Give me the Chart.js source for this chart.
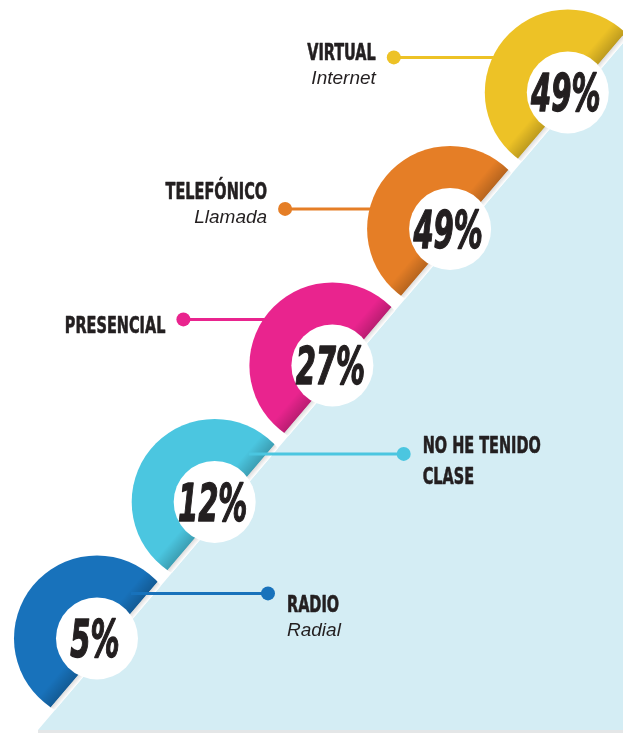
<!DOCTYPE html>
<html lang="es">
<head>
<meta charset="utf-8">
<title>Modalidad de clase</title>
<script src="https://cdn.jsdelivr.net/npm/chart.js@4.4.1/dist/chart.umd.min.js"></script>
<style>
  html, body { margin: 0; padding: 0; background: #ffffff; }
  #wrap { position: relative; width: 623px; height: 733px; }
</style>
</head>
<body>
<div id="wrap"><canvas id="modalidadChart"></canvas></div>
<script>
// datos (de abajo hacia arriba en la escalera)
const categorias = ['RADIO', 'NO HE TENIDO\nCLASE', 'PRESENCIAL', 'TELEFÓNICO', 'VIRTUAL'];
const subtitulos = ['Radial', '', '', 'Llamada', 'Internet'];
const porcentajes = [5, 12, 27, 49, 49];

// estilos
const coloresAnillo = ['#1872BB', '#4BC6E0', '#E9248E', '#E57E26', '#EDC226'];
const fondoTriangulo = '#D4EDF4';
const colorTexto = '#231F20';

// posicion de las etiquetas respecto al centro de cada anillo
const ladoEtiqueta = ['right', 'right', 'left', 'left', 'left'];
const puntoDx = [171, 189, -149, -165, -174];
const puntoDy = [-45, -48, -46, -20, -35];
const tituloDy = [19, -1, 14, -10, 3];

const R_ANILLO = 83;
const R_BLANCO = 41;
const HUECO = 5;

document.addEventListener('DOMContentLoaded', function() {
    const canvas = document.getElementById('modalidadChart');
    if (typeof Chart === 'undefined') {
        console.error('Chart.js no encontrado');
        return;
    }

    const puntos = categorias.map((c, i) => ({ x: i, y: i }));

    // diagonal del triangulo celeste
    function diagonal(chart) {
        const a = chart.chartArea;
        const p1 = { x: a.left + 38, y: a.bottom - 3 };
        const p2 = { x: a.right, y: a.top + 43 };
        const len = Math.hypot(p2.x - p1.x, p2.y - p1.y);
        const d = { x: (p2.x - p1.x) / len, y: (p2.y - p1.y) / len };
        const n = { x: d.y, y: -d.x }; // hacia arriba-izquierda
        if (n.x > 0) { n.x = -n.x; n.y = -n.y; }
        return { p1, p2, d, n };
    }

    function franja(ctx, g, s0, s1) {
        ctx.beginPath();
        ctx.moveTo(g.p1.x - g.d.x * 400 + g.n.x * s0, g.p1.y - g.d.y * 400 + g.n.y * s0);
        ctx.lineTo(g.p2.x + g.d.x * 400 + g.n.x * s0, g.p2.y + g.d.y * 400 + g.n.y * s0);
        ctx.lineTo(g.p2.x + g.d.x * 400 + g.n.x * s1, g.p2.y + g.d.y * 400 + g.n.y * s1);
        ctx.lineTo(g.p1.x - g.d.x * 400 + g.n.x * s1, g.p1.y - g.d.y * 400 + g.n.y * s1);
        ctx.closePath();
    }

    function textoAngosto(ctx, txt, x, y, font, align, sx, grosor) {
        ctx.save();
        ctx.translate(x, y);
        ctx.scale(sx, 1);
        ctx.font = font;
        ctx.textAlign = align;
        ctx.textBaseline = 'alphabetic';
        ctx.fillText(txt, 0, 0);
        if (grosor) {
            ctx.strokeStyle = ctx.fillStyle;
            ctx.lineWidth = grosor;
            ctx.lineJoin = 'round';
            ctx.strokeText(txt, 0, 0);
        }
        ctx.restore();
    }

    const escalera = {
        id: 'escalera',
        beforeDatasetsDraw(chart) {
            const ctx = chart.ctx;
            const a = chart.chartArea;
            const g = diagonal(chart);
            ctx.save();
            ctx.fillStyle = '#E4E6E7';
            ctx.fillRect(g.p1.x, a.bottom - 3, a.right - g.p1.x, 3);
            ctx.beginPath();
            ctx.moveTo(g.p1.x, g.p1.y);
            ctx.lineTo(g.p2.x, g.p2.y);
            ctx.lineTo(a.right, g.p1.y);
            ctx.closePath();
            ctx.fillStyle = fondoTriangulo;
            ctx.fill();
            ctx.restore();
        },
        beforeDatasetDraw(chart, args) {
            if (args.index !== 0) return;
            const ctx = chart.ctx;
            const g = diagonal(chart);
            ctx.save();
            franja(ctx, g, HUECO, 3000);
            ctx.clip();
        },
        afterDatasetDraw(chart, args) {
            if (args.index !== 0) return;
            const ctx = chart.ctx;
            ctx.restore();
            const g = diagonal(chart);
            const meta = chart.getDatasetMeta(0);
            meta.data.forEach(function(pt) {
                ctx.save();
                ctx.beginPath();
                ctx.arc(pt.x, pt.y, R_ANILLO, 0, Math.PI * 2);
                ctx.clip();
                // franja clara entre anillo y triangulo
                const band = ctx.createLinearGradient(
                    g.p1.x, g.p1.y,
                    g.p1.x + g.n.x * HUECO, g.p1.y + g.n.y * HUECO);
                band.addColorStop(0, '#ffffff');
                band.addColorStop(1, '#dcdcdc');
                ctx.fillStyle = band;
                franja(ctx, g, 0, HUECO);
                ctx.fill();
                // sombreado del borde del anillo
                const s0 = HUECO, s1 = HUECO + 16;
                const sh = ctx.createLinearGradient(
                    g.p1.x + g.n.x * s0, g.p1.y + g.n.y * s0,
                    g.p1.x + g.n.x * s1, g.p1.y + g.n.y * s1);
                sh.addColorStop(0, 'rgba(0,0,0,0.2)');
                sh.addColorStop(1, 'rgba(0,0,0,0)');
                ctx.fillStyle = sh;
                franja(ctx, g, s0, s1);
                ctx.fill();
                ctx.restore();
            });
        },
        afterDatasetsDraw(chart) {
            const ctx = chart.ctx;
            const meta = chart.getDatasetMeta(0);
            const tituloFont = 'bold 23px "DejaVu Sans Condensed", "DejaVu Sans", sans-serif';
            const subFont = 'italic 19px "Liberation Sans", Arial, sans-serif';
            const pctFont = 'italic bold 52px "DejaVu Sans Condensed", "DejaVu Sans", sans-serif';

            meta.data.forEach(function(pt, i) {
                const color = coloresAnillo[i];
                const lado = ladoEtiqueta[i];
                const dotX = pt.x + puntoDx[i];
                const dotY = pt.y + puntoDy[i];
                const dy = puntoDy[i];
                const inicioX = lado === 'left'
                    ? pt.x - Math.sqrt(R_ANILLO * R_ANILLO - dy * dy) + 2
                    : pt.x + 34;

                ctx.save();
                ctx.strokeStyle = color;
                ctx.lineWidth = 3;
                ctx.beginPath();
                ctx.moveTo(inicioX, dotY);
                ctx.lineTo(dotX, dotY);
                ctx.stroke();
                ctx.fillStyle = color;
                ctx.beginPath();
                ctx.arc(dotX, dotY, 7, 0, Math.PI * 2);
                ctx.fill();
                ctx.restore();

                // etiquetas
                ctx.fillStyle = colorTexto;
                const lineas = categorias[i].split('\n');
                const tx = lado === 'left' ? dotX - 18 : dotX + 19;
                const ty = dotY + tituloDy[i];
                lineas.forEach(function(l, k) {
                    textoAngosto(ctx, l, tx, ty + k * 31, tituloFont, lado === 'left' ? 'right' : 'left', 0.7, 0.6);
                });
                if (subtitulos[i]) {
                    ctx.save();
                    ctx.font = subFont;
                    ctx.textAlign = lado === 'left' ? 'right' : 'left';
                    ctx.fillText(subtitulos[i], tx, ty + 24);
                    ctx.restore();
                }

                // porcentaje
                ctx.fillStyle = colorTexto;
                textoAngosto(ctx, porcentajes[i] + '%', pt.x - 2, pt.y + 19, pctFont, 'center', 0.62, 1.4);
            });
        }
    };

    new Chart(canvas.getContext('2d'), {
        type: 'scatter',
        data: {
            datasets: [{
                label: 'anillo',
                data: puntos,
                order: 2,
                pointRadius: R_ANILLO,
                pointHoverRadius: R_ANILLO,
                pointBackgroundColor: coloresAnillo,
                pointBorderWidth: 0,
                clip: false
            }, {
                label: 'centro',
                data: puntos,
                order: 1,
                pointRadius: R_BLANCO,
                pointHoverRadius: R_BLANCO,
                pointBackgroundColor: '#ffffff',
                pointBorderWidth: 0,
                clip: false
            }]
        },
        options: {
            responsive: true,
            maintainAspectRatio: false,
            animation: false,
            events: [],
            layout: { padding: 0, autoPadding: false },
            scales: {
                x: { type: 'linear', min: -0.824, max: 4.469, display: false },
                y: { type: 'linear', min: -0.693, max: 4.677, display: false }
            },
            plugins: {
                legend: { display: false },
                tooltip: { enabled: false }
            }
        },
        plugins: [escalera]
    });
});
</script>
</body>
</html>
